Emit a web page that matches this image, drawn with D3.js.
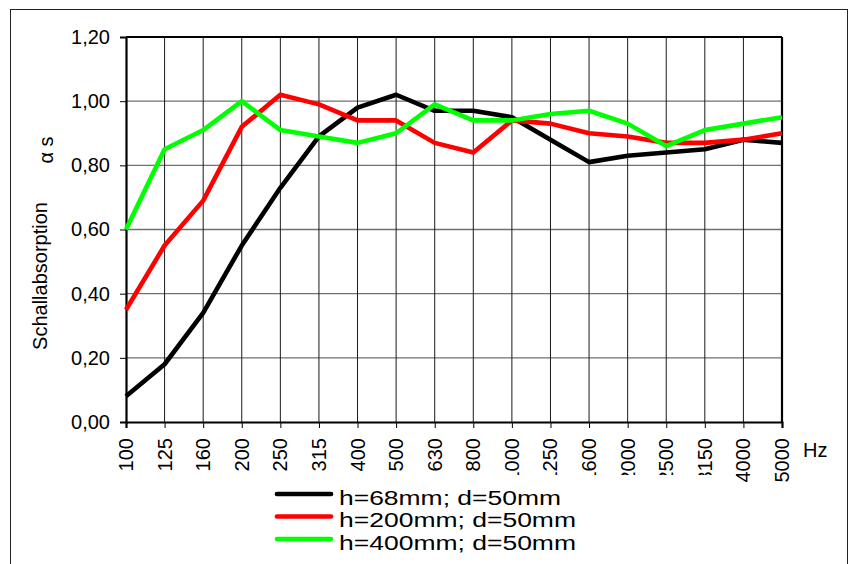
<!DOCTYPE html>
<html>
<head>
<meta charset="utf-8">
<script src="https://cdn.jsdelivr.net/npm/d3@7"></script>
<style>
  html, body { margin: 0; padding: 0; background: #fff; }
  svg { display: block; }
  text { font-family: Arial, "Liberation Sans", sans-serif; fill: #000; }
</style>
</head>
<body>
<svg id="chart" width="855" height="564"></svg>
<script>
// ---- data ----
const categories = ["100","125","160","200","250","315","400","500","630","800","1000","1250","1600","2000","2500","3150","4000","5000"];
const h68  = [0.08,0.18,0.34,0.55,0.73,0.89,0.98,1.02,0.97,0.97,0.95,0.88,0.81,0.83,0.84,0.85,0.88,0.87];
const h200 = [0.35,0.55,0.69,0.92,1.02,0.99,0.94,0.94,0.87,0.84,0.94,0.93,0.90,0.89,0.87,0.87,0.88,0.90];
const h400 = [0.60,0.85,0.91,1.00,0.91,0.89,0.87,0.90,0.99,0.94,0.94,0.96,0.97,0.93,0.86,0.91,0.93,0.95];
const yTicks = [0,0.2,0.4,0.6,0.8,1.0,1.2];
const seriesNames = ["h=68mm; d=50mm","h=200mm; d=50mm","h=400mm; d=50mm"];
const seriesColors = ["#000000","#ff0000","#00ff00"];
const clippedLabels = ["1000","1250","1600","2000","2500","3150"];

const series = [h68, h200, h400].map((vals, i) => ({name: seriesNames[i], color: seriesColors[i], values: vals}));

const svg = d3.select("#chart");
const L = 126, R = 782, T = 37, B = 422;

const x = d3.scalePoint().domain(categories).range([L, R]).padding(0);
const y = d3.scaleLinear().domain([0, 1.2]).range([B, T]);
const loc = d3.formatLocale({decimal: ",", thousands: ".", grouping: [3], currency: ["", ""]});
const fmt = loc.format(".2f");

// outer border
svg.append("rect").attr("x", 10.5).attr("y", 9.5).attr("width", 837).attr("height", 600)
  .attr("fill", "none").attr("stroke", "#222").attr("stroke-width", 1);

// horizontal grid
svg.append("g").selectAll("line").data(yTicks.slice(1)).join("line")
  .attr("x1", L).attr("x2", R).attr("y1", d => y(d)).attr("y2", d => y(d))
  .attr("stroke", "#707070").attr("stroke-width", 1.3);

// vertical grid
svg.append("g").selectAll("line").data(categories.slice(1)).join("line")
  .attr("x1", d => x(d)).attr("x2", d => x(d)).attr("y1", T).attr("y2", B)
  .attr("stroke", "#1a1a1a").attr("stroke-width", 1);

// y axis
const yAxis = svg.append("g").attr("transform", `translate(${L},0)`)
  .call(d3.axisLeft(y).tickValues(yTicks).tickFormat(fmt).tickSize(6).tickPadding(10));
yAxis.select(".domain").attr("stroke", "#000").attr("stroke-width", 2.2);
yAxis.selectAll(".tick line").attr("stroke", "#000").attr("stroke-width", 1);
yAxis.selectAll(".tick text").attr("font-size", "20px").attr("font-family", "Arial, 'Liberation Sans', sans-serif").attr("fill", "#000");

// x axis
const xAxis = svg.append("g").attr("transform", `translate(0,${B})`)
  .call(d3.axisBottom(x).tickSize(6).tickFormat(""));
xAxis.select(".domain").attr("stroke", "#000").attr("stroke-width", 2.2);
xAxis.selectAll(".tick line").attr("stroke", "#000").attr("stroke-width", 1);

// top and right border of plot
svg.append("line").attr("x1", L).attr("x2", R).attr("y1", T).attr("y2", T).attr("stroke", "#000").attr("stroke-width", 2.2);
svg.append("line").attr("x1", R).attr("x2", R).attr("y1", T).attr("y2", B).attr("stroke", "#000").attr("stroke-width", 2.2);

// x tick labels (rotated)
svg.append("defs").append("clipPath").attr("id", "lblclip")
  .append("rect").attr("x", 0).attr("y", 420).attr("width", 855).attr("height", 55);
const lblG = svg.append("g");
const clipG = svg.append("g").attr("clip-path", "url(#lblclip)");
categories.forEach(c => {
  const parent = clippedLabels.includes(c) ? clipG : lblG;
  parent.append("text")
    .attr("transform", `translate(${x(c)},438) rotate(-90)`)
    .attr("text-anchor", "end").attr("dy", "0.35em")
    .attr("font-size", "20px")
    .text(c);
});

// Hz label
svg.append("text").attr("x", 803).attr("y", 457).attr("font-size", "20px").text("Hz");

// y title
svg.append("text").attr("transform", "translate(40,276) rotate(-90)")
  .attr("text-anchor", "middle").attr("dy", "0.35em").attr("font-size", "20px").text("Schallabsorption");
svg.append("text").attr("transform", "translate(46,150) rotate(-90)")
  .attr("text-anchor", "middle").attr("dy", "0.35em").attr("font-size", "20px").text("α s");

// series lines
const line = d3.line().x((v, i) => x(categories[i])).y(v => y(v));
svg.append("g").selectAll("path").data(series).join("path")
  .attr("d", d => line(d.values))
  .attr("fill", "none").attr("stroke", d => d.color).attr("stroke-width", 4.6)
  .attr("stroke-linejoin", "round").attr("stroke-linecap", "butt");

// legend
const legendWidths = [222, 237, 237];
const lg = svg.append("g").selectAll("g").data(series).join("g")
  .attr("transform", (d, i) => `translate(0,${494 + i * 22.5})`);
lg.append("line").attr("x1", 277).attr("x2", 331).attr("y1", 0).attr("y2", 0)
  .attr("stroke", d => d.color).attr("stroke-width", 4.7).attr("stroke-linecap", "round");
lg.append("text").attr("x", 339).attr("y", 10.5)
  .attr("font-size", "19.5px")
  .attr("textLength", (d, i) => legendWidths[i]).attr("lengthAdjust", "spacingAndGlyphs")
  .text(d => d.name);
</script>
</body>
</html>
